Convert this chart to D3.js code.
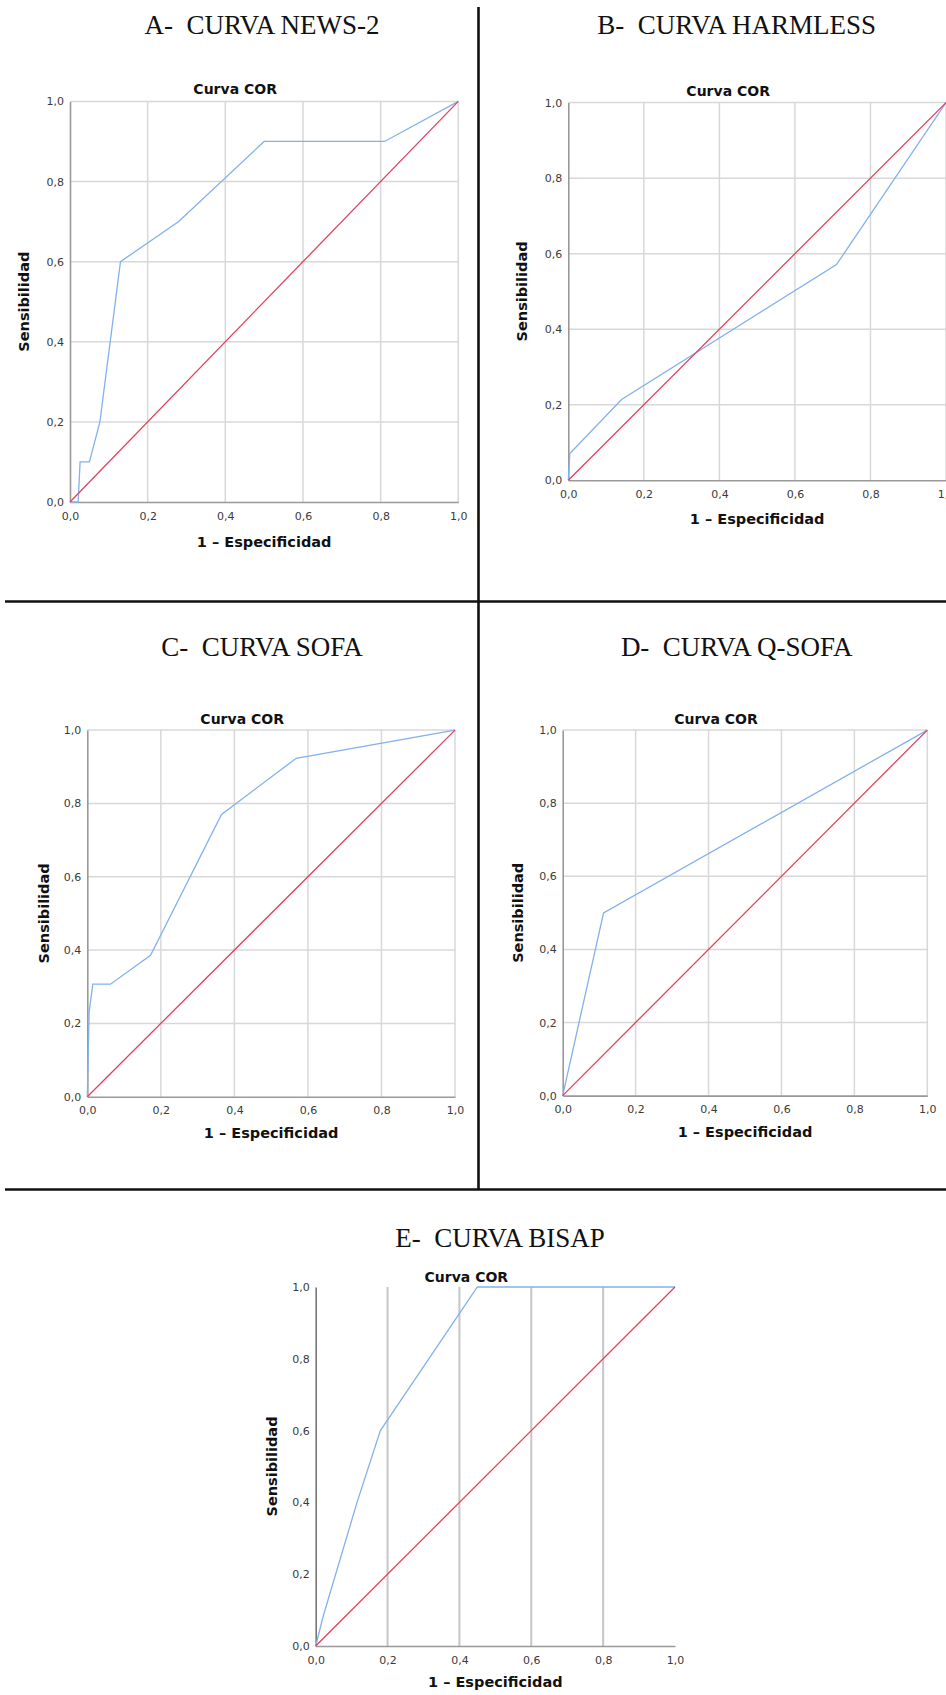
<!DOCTYPE html>
<html>
<head>
<meta charset="utf-8">
<script src="https://cdn.jsdelivr.net/npm/d3@7"></script>
<style>
  html, body { margin: 0; padding: 0; background: #fff; }
  svg { display: block; }
  .tick text { font-family: "DejaVu Sans", sans-serif; font-size: 11px; fill: #3a3a3a; }
</style>
</head>
<body>
<svg id="chart"></svg>
<script>
const W = 946, H = 1695;

// Axis ticks and panel titles
const ticks = [0, 0.2, 0.4, 0.6, 0.8, 1.0];
const titles = ["A-  CURVA NEWS-2", "B-  CURVA HARMLESS", "C-  CURVA SOFA", "D-  CURVA Q-SOFA", "E-  CURVA BISAP"];

// 1 - Especificidad (x) and Sensibilidad (y) for each curve
const fprNews = [0, 0.021, 0.026, 0.05, 0.077, 0.13, 0.28, 0.5, 0.81, 1];
const tprNews = [0, 0, 0.1, 0.1, 0.2, 0.6, 0.7, 0.9, 0.9, 1];
const fprHarmless = [0, 0.004, 0.141, 0.71, 1];
const tprHarmless = [0, 0.071, 0.214, 0.571, 1];
const fprSofa = [0, 0.005, 0.015, 0.063, 0.172, 0.365, 0.568, 1];
const tprSofa = [0, 0.231, 0.307, 0.307, 0.386, 0.77, 0.923, 1];
const fprQsofa = [0, 0.112, 1];
const tprQsofa = [0, 0.5, 1];
const fprBisap = [0, 0.02, 0.115, 0.18, 0.45, 1];
const tprBisap = [0, 0.08, 0.4, 0.6, 1, 1];
// reference line
const diagonal = [0, 1];

const svg = d3.select("#chart")
  .attr("width", W)
  .attr("height", H);

// where each picture sits on the page
const panels = [
  { fpr: fprNews, tpr: tprNews, left: 70, right: 458.3, top: 101.4, bottom: 502,
    titleX: 262, titleY: 33.6, corY: 94, ylabX: 29, xlabY: 546.7, hGrid: true },
  { fpr: fprHarmless, tpr: tprHarmless, left: 568.3, right: 946, top: 102.6, bottom: 480.3,
    titleX: 736.7, titleY: 33.6, corY: 95.5, ylabX: 527, xlabY: 523.5, hGrid: true },
  { fpr: fprSofa, tpr: tprSofa, left: 87.3, right: 455, top: 730.1, bottom: 1096.7,
    titleX: 262, titleY: 656.4, corY: 723.5, ylabX: 49, xlabY: 1138.4, hGrid: true },
  { fpr: fprQsofa, tpr: tprQsofa, left: 562.7, right: 927.3, top: 730.1, bottom: 1095.6,
    titleX: 736.7, titleY: 656.4, corY: 723.5, ylabX: 523, xlabY: 1136.5, hGrid: true },
  { fpr: fprBisap, tpr: tprBisap, left: 315.7, right: 675, top: 1287, bottom: 1646,
    titleX: 500, titleY: 1247, corY: 1281.5, ylabX: 277.3, xlabY: 1687, hGrid: false }
];

const fmt = d => d3.format(".1f")(d).replace(".", ",");

panels.forEach((p, i) => {
  const x = d3.scaleLinear().domain([0, 1]).range([p.left, p.right]);
  const y = d3.scaleLinear().domain([0, 1]).range([p.bottom, p.top]);
  const g = svg.append("g");

  // panel title
  g.append("text")
    .attr("x", p.titleX)
    .attr("y", p.titleY)
    .attr("text-anchor", "middle")
    .attr("xml:space", "preserve")
    .style("font-family", "'Liberation Serif', 'Times New Roman', serif")
    .style("font-size", "27px")
    .style("fill", "#111")
    .text(titles[i]);

  // gridlines
  const gridX = ticks.filter(t => t > 0 && (p.hGrid || t < 1));
  g.selectAll(".vgrid")
    .data(gridX)
    .enter().append("line")
    .attr("x1", d => x(d)).attr("x2", d => x(d))
    .attr("y1", p.top).attr("y2", p.bottom)
    .attr("stroke", p.hGrid ? "#d8d8d8" : "#c6c6c6")
    .attr("stroke-width", p.hGrid ? 1.5 : 2);

  if (p.hGrid) {
    g.selectAll(".hgrid")
      .data(ticks.filter(t => t > 0))
      .enter().append("line")
      .attr("x1", p.left).attr("x2", p.right)
      .attr("y1", d => y(d)).attr("y2", d => y(d))
      .attr("stroke", "#d8d8d8")
      .attr("stroke-width", 1.5);
  }

  // axes
  const xAxis = g.append("g")
    .attr("transform", `translate(0,${p.bottom})`)
    .call(d3.axisBottom(x).tickValues(ticks).tickSize(0).tickPadding(10).tickFormat(fmt));
  xAxis.select(".domain").attr("stroke", "#999").attr("stroke-width", 1.6);

  const yAxis = g.append("g")
    .attr("transform", `translate(${p.left},0)`)
    .call(d3.axisLeft(y).tickValues(ticks).tickSize(0).tickPadding(6).tickFormat(fmt));
  yAxis.select(".domain").attr("stroke", p.hGrid ? "#999" : "#777").attr("stroke-width", 1.6);

  // ROC curve
  const line = d3.line()
    .x(d => x(d[0]))
    .y(d => y(d[1]));

  g.append("path")
    .datum(p.fpr.map((v, k) => [v, p.tpr[k]]))
    .attr("d", line)
    .attr("fill", "none")
    .attr("stroke", "#82b1ec")
    .attr("stroke-width", 1.3);

  // reference diagonal
  g.append("path")
    .datum(diagonal.map(v => [v, v]))
    .attr("d", line)
    .attr("fill", "none")
    .attr("stroke", "#e3405f")
    .attr("stroke-width", 1.3);

  // chart title
  g.append("text")
    .attr("x", (p.left + p.right) / 2 - 29)
    .attr("y", p.corY)
    .attr("text-anchor", "middle")
    .style("font-family", "'DejaVu Sans', sans-serif")
    .style("font-weight", "bold")
    .style("font-size", "14px")
    .style("fill", "#111")
    .text("Curva COR");

  // axis titles
  g.append("text")
    .attr("x", (p.left + p.right) / 2)
    .attr("y", p.xlabY)
    .attr("text-anchor", "middle")
    .style("font-family", "'DejaVu Sans', sans-serif")
    .style("font-weight", "bold")
    .style("font-size", "14.5px")
    .style("fill", "#111")
    .text("1 – Especificidad");

  g.append("text")
    .attr("transform", `translate(${p.ylabX},${(p.top + p.bottom) / 2}) rotate(-90)`)
    .attr("text-anchor", "middle")
    .style("font-family", "'DejaVu Sans', sans-serif")
    .style("font-weight", "bold")
    .style("font-size", "14.5px")
    .style("fill", "#111")
    .text("Sensibilidad");
});

// frame lines between the pictures
const frame = svg.append("g")
  .attr("stroke", "#111")
  .attr("stroke-width", 2.6);
frame.append("line").attr("x1", 478.5).attr("x2", 478.5).attr("y1", 7).attr("y2", 1189.5);
frame.append("line").attr("x1", 5).attr("x2", W).attr("y1", 601.5).attr("y2", 601.5);
frame.append("line").attr("x1", 5).attr("x2", W).attr("y1", 1189.5).attr("y2", 1189.5);
</script>
</body>
</html>
